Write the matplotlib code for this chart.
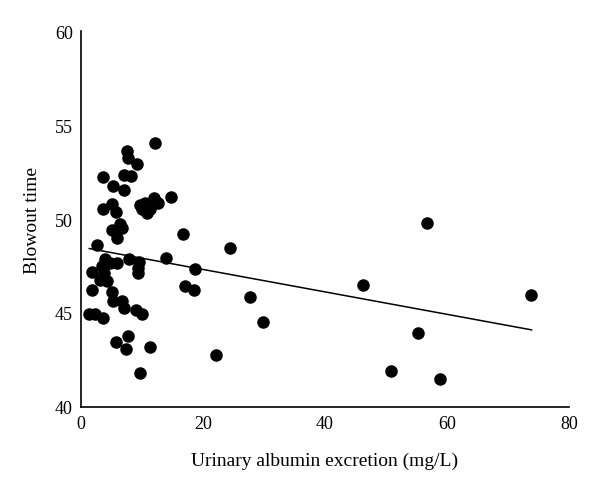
import numpy as np
import matplotlib.pyplot as plt

plt.rcParams['font.family'] = ['Liberation Serif', 'DejaVu Serif']

# urinary albumin excretion (mg/L)
uae = [12.18, 7.49, 7.75, 9.23, 3.66, 7.10, 8.15, 5.20, 7.05, 14.70,
       11.97, 12.67, 5.03, 3.56, 5.74, 9.67, 10.49, 11.03, 9.95, 10.77,
       11.31, 6.39, 5.03, 6.72, 5.95, 2.57, 13.93, 7.92, 9.56, 5.85,
       4.75, 3.93, 3.39, 1.75, 3.77, 9.39, 9.39, 4.21, 3.11, 1.75,
       5.03, 6.80, 5.30, 7.05, 9.02, 9.95, 1.36, 2.30, 3.56, 7.75,
       5.74, 7.38, 11.31, 9.67, 16.77, 24.43, 56.67, 18.69, 17.05, 18.57,
       27.70, 29.79, 22.08, 46.28, 50.77, 55.30, 58.80, 73.77]

# blowout time
blowout = [54.07, 53.60, 53.25, 52.94, 52.22, 52.37, 52.28, 51.78, 51.57, 51.18,
           51.13, 50.86, 50.82, 50.56, 50.38, 50.77, 50.86, 50.68, 50.51, 50.33,
           50.56, 49.73, 49.40, 49.52, 49.00, 48.64, 47.94, 47.85, 47.70, 47.67,
           47.67, 47.85, 47.49, 47.19, 47.14, 47.14, 47.39, 46.69, 46.78, 46.21,
           46.11, 45.66, 45.63, 45.28, 45.15, 44.97, 44.92, 44.92, 44.74, 43.77,
           43.47, 43.06, 43.18, 41.82, 49.21, 48.47, 49.80, 47.35, 46.46, 46.20,
           45.84, 44.53, 42.78, 46.50, 41.90, 43.95, 41.48, 45.97]

# trend line end points
trend_x = [1.36, 73.9]
trend_y = [48.43, 44.10]

fig = plt.figure(figsize=(6, 4.81), dpi=100)
ax = fig.add_axes([0.135, 0.152, 0.813, 0.781])

ax.plot(uae, blowout, 'o', color='black', markersize=8, zorder=3)
ax.plot(trend_x, trend_y, color='black', linewidth=1.1)

ax.set_xlim(0, 80)
ax.set_ylim(40, 60)
ax.set_xticks([0, 20, 40, 60, 80])
ax.set_yticks([40, 45, 50, 55, 60])
ax.tick_params(length=0, labelsize=13, pad=6)

for side in ['top', 'right']:
    ax.spines[side].set_visible(False)
for side in ['left', 'bottom']:
    ax.spines[side].set_linewidth(1.2)

ax.set_xlabel('Urinary albumin excretion (mg/L)', fontsize=14, labelpad=14)
ax.set_ylabel('Blowout time', fontsize=14, labelpad=10)

fig.savefig('out.png', dpi=100)
